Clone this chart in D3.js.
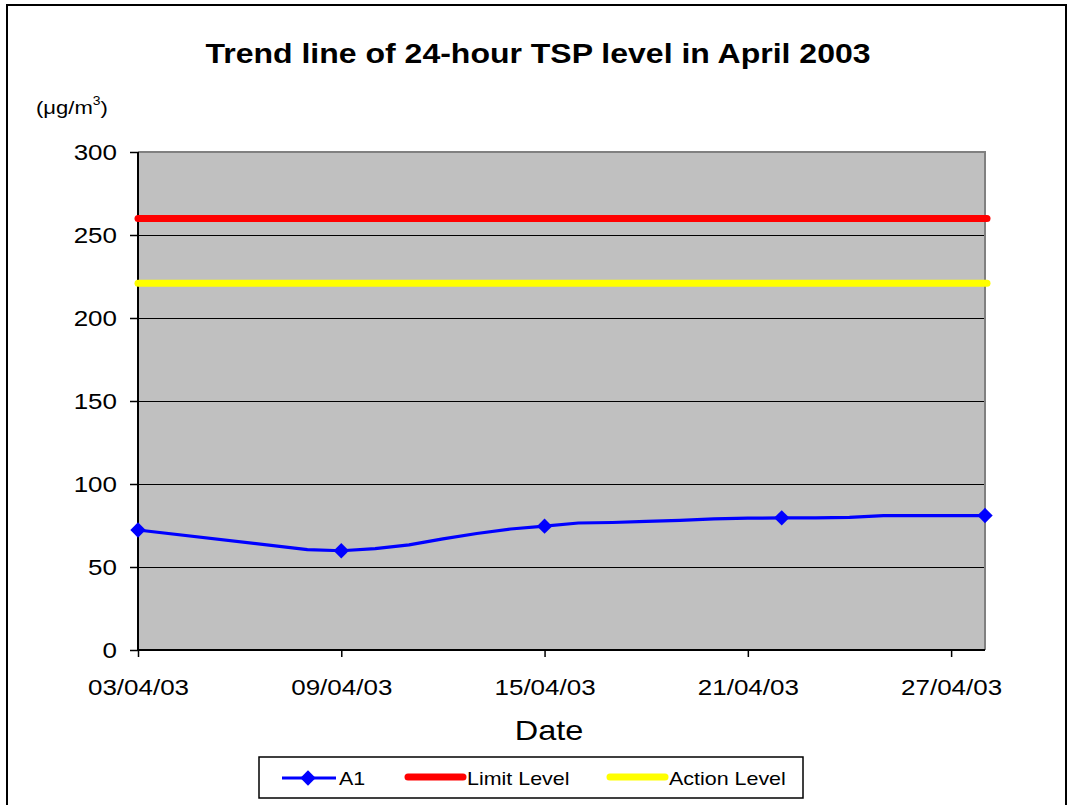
<!DOCTYPE html>
<html>
<head>
<meta charset="utf-8">
<script src="https://cdn.jsdelivr.net/npm/d3@7"></script>
<style>
  body { margin: 0; background: #fff; }
  text { font-family: "Liberation Sans", Arial, sans-serif; }
</style>
</head>
<body>
<div id="chart"></div>
<script>
// daily TSP readings at A1 (ug/m3); markers only on sampling days
var dates = ["2003-04-03", "2003-04-08", "2003-04-09", "2003-04-10", "2003-04-11", "2003-04-12",
    "2003-04-13", "2003-04-14", "2003-04-15", "2003-04-16", "2003-04-17", "2003-04-18",
    "2003-04-19", "2003-04-20", "2003-04-21", "2003-04-22", "2003-04-23", "2003-04-24",
    "2003-04-25", "2003-04-26", "2003-04-27", "2003-04-28"];
var a1 = [72.3, 60.5, 59.8, 61.1, 63.3, 66.9, 70.2, 72.9, 74.6, 76.5, 76.8, 77.5,
    78.1, 79.0, 79.4, 79.6, 79.6, 79.9, 81.0, 81.0, 81.0, 81.0];
var sampleDays = ["2003-04-03", "2003-04-09", "2003-04-15", "2003-04-22", "2003-04-28"];
var limitLevel = 260;
var actionLevel = 221;
var yTicks = [0, 50, 100, 150, 200, 250, 300];
var xTicks = ["2003-04-03", "2003-04-09", "2003-04-15", "2003-04-21", "2003-04-27"];

var width = 1069, height = 805;
var margin = {left: 138, right: 84, top: 152, bottom: 155};
var parse = d3.timeParse("%Y-%m-%d");
var fmt = d3.timeFormat("%d/%m/%y");
var wide = 1.16; // text in the original is drawn a bit stretched

// move x/y into a transform so the glyphs can be widened
function stretch(sel) {
    sel.each(function () {
        var t = d3.select(this);
        var tx = +t.attr("x") || 0, ty = +t.attr("y") || 0;
        t.attr("x", 0).attr("y", 0)
            .attr("transform", "translate(" + tx + "," + ty + ") scale(" + wide + ",1)");
    });
}

var svg = d3.select("#chart").append("svg")
    .attr("width", width)
    .attr("height", height);

// outer frame
svg.append("rect")
    .attr("x", 7).attr("y", 5)
    .attr("width", 1059).attr("height", 810)
    .attr("fill", "#fff")
    .attr("stroke", "#000")
    .attr("stroke-width", 2);

var x = d3.scaleTime()
    .domain([parse("2003-04-03"), parse("2003-04-28")])
    .range([margin.left, width - margin.right]);
var y = d3.scaleLinear()
    .domain([0, 300])
    .range([height - margin.bottom, margin.top]);

var data = dates.map(function (d, i) {
    return {date: parse(d), value: a1[i], marked: sampleDays.indexOf(d) >= 0};
});

// plot area
svg.append("rect")
    .attr("x", x.range()[0]).attr("y", y(300))
    .attr("width", x.range()[1] - x.range()[0])
    .attr("height", y(0) - y(300))
    .attr("fill", "#c0c0c0");

// grid
svg.append("g").selectAll("line")
    .data(yTicks.filter(function (d) { return d > 0 && d < 300; }))
    .enter().append("line")
    .attr("x1", x.range()[0]).attr("x2", x.range()[1])
    .attr("y1", function (d) { return y(d) + 0.5; })
    .attr("y2", function (d) { return y(d) + 0.5; })
    .attr("stroke", "#000")
    .attr("stroke-width", 1);

// top and right border
svg.append("path")
    .attr("d", "M" + x.range()[0] + "," + y(300) + "H" + x.range()[1] + "V" + y(0))
    .attr("fill", "none")
    .attr("stroke", "#808080")
    .attr("stroke-width", 2);

// axes
var yAxis = svg.append("g")
    .attr("transform", "translate(" + margin.left + ",0)")
    .call(d3.axisLeft(y).tickValues(yTicks).tickSize(8).tickPadding(13));
var xAxis = svg.append("g")
    .attr("transform", "translate(0," + y(0) + ")")
    .call(d3.axisBottom(x).tickValues(xTicks.map(parse)).tickFormat(fmt).tickSize(7).tickPadding(22));
[yAxis, xAxis].forEach(function (g) {
    g.select(".domain").attr("stroke", "#000").attr("stroke-width", 2);
    g.selectAll(".tick line").attr("stroke", "#000").attr("stroke-width", 1.5);
    g.selectAll(".tick text")
        .attr("font-family", "Liberation Sans, Arial, sans-serif")
        .attr("font-size", 22.4)
        .attr("fill", "#000");
});
yAxis.select(".domain").attr("d", "M0," + y(300) + "V" + y(0));
yAxis.selectAll(".tick text").attr("dy", "0.35em");
xAxis.select(".domain").attr("d", "M" + x.range()[0] + ",0H" + x.range()[1]);
stretch(yAxis.selectAll(".tick text"));
stretch(xAxis.selectAll(".tick text"));

// level lines
svg.append("line")
    .attr("x1", x.range()[0]).attr("x2", x.range()[1] + 2)
    .attr("y1", y(limitLevel)).attr("y2", y(limitLevel))
    .attr("stroke", "#ff0000").attr("stroke-width", 7).attr("stroke-linecap", "round");
svg.append("line")
    .attr("x1", x.range()[0]).attr("x2", x.range()[1] + 2)
    .attr("y1", y(actionLevel)).attr("y2", y(actionLevel))
    .attr("stroke", "#ffff00").attr("stroke-width", 7).attr("stroke-linecap", "round");

// A1 series
var line = d3.line()
    .x(function (d) { return x(d.date); })
    .y(function (d) { return y(d.value); });
svg.append("path")
    .datum(data)
    .attr("d", line)
    .attr("fill", "none")
    .attr("stroke", "#0000ff")
    .attr("stroke-width", 3.2)
    .attr("stroke-linejoin", "round");

var diamond = d3.symbol().type(d3.symbolDiamond2).size(150);
svg.append("g").selectAll("path")
    .data(data.filter(function (d) { return d.marked; }))
    .enter().append("path")
    .attr("d", diamond)
    .attr("transform", function (d) { return "translate(" + x(d.date) + "," + y(d.value) + ")"; })
    .attr("fill", "#0000ff");

// titles
var title = svg.append("text")
    .attr("x", 538).attr("y", 63)
    .attr("text-anchor", "middle")
    .attr("font-size", 27.6)
    .attr("font-weight", "bold")
    .text("Trend line of 24-hour TSP level in April 2003");
stretch(title);

var unit = svg.append("text")
    .attr("x", 36).attr("y", 114)
    .attr("font-size", 19);
unit.append("tspan").text("(\u03bcg/m");
unit.append("tspan").attr("font-size", 12).attr("dy", -9).text("3");
unit.append("tspan").attr("dy", 9).text(")");
stretch(unit);

var xTitle = svg.append("text")
    .attr("x", 549).attr("y", 740)
    .attr("text-anchor", "middle")
    .attr("font-size", 28)
    .text("Date");
stretch(xTitle);

// legend
var lg = svg.append("g");
lg.append("rect")
    .attr("x", 259).attr("y", 757)
    .attr("width", 544).attr("height", 41)
    .attr("fill", "#fff")
    .attr("stroke", "#000")
    .attr("stroke-width", 1.5);
lg.append("line")
    .attr("x1", 282).attr("x2", 336).attr("y1", 778).attr("y2", 778)
    .attr("stroke", "#0000ff").attr("stroke-width", 3);
lg.append("path")
    .attr("d", diamond)
    .attr("transform", "translate(308,778)")
    .attr("fill", "#0000ff");
lg.append("line")
    .attr("x1", 408).attr("x2", 463).attr("y1", 777).attr("y2", 777)
    .attr("stroke", "#ff0000").attr("stroke-width", 7).attr("stroke-linecap", "round");
lg.append("line")
    .attr("x1", 610).attr("x2", 665).attr("y1", 777).attr("y2", 777)
    .attr("stroke", "#ffff00").attr("stroke-width", 7).attr("stroke-linecap", "round");
var lgText = lg.selectAll("text.lab")
    .data([{x: 339, t: "A1"}, {x: 467, t: "Limit Level"}, {x: 669, t: "Action Level"}])
    .enter().append("text")
    .attr("class", "lab")
    .attr("x", function (d) { return d.x; })
    .attr("y", 785)
    .attr("font-size", 18.5)
    .text(function (d) { return d.t; });
stretch(lgText);
</script>
</body>
</html>
